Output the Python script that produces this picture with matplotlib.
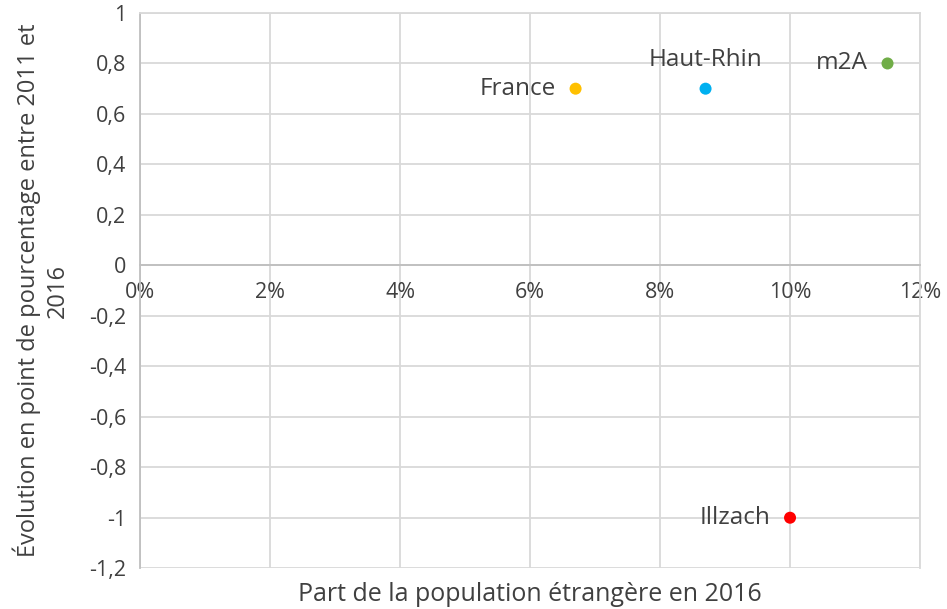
import matplotlib.pyplot as plt
from matplotlib.ticker import FuncFormatter

names = ['France', 'Haut-Rhin', 'm2A', 'Illzach']
part_etrangere = [0.067, 0.087, 0.115, 0.100]
evolution = [0.7, 0.7, 0.8, -1.0]
colors = ['#FFC000', '#00B0F0', '#70AD47', '#FF0000']
label_pos = ['left', 'above', 'left', 'left']

plt.rcParams['font.family'] = ['Open Sans', 'DejaVu Sans']
txt = '#404040'
grid = '#D9D9D9'

fig = plt.figure(figsize=(9.47, 6.09), dpi=100)
ax = fig.add_axes([0.148, 0.067, 0.8235, 0.9117])

for x, y, c, n, p in zip(part_etrangere, evolution, colors, names, label_pos):
    ax.scatter(x, y, s=75, color=c, zorder=3, edgecolors='none')
    if p == 'above':
        ax.annotate(n, (x, y), xytext=(0, 12), textcoords='offset points',
                    ha='center', va='bottom', fontsize=17.5, color=txt)
    else:
        ax.annotate(n, (x, y), xytext=(-14, 0), textcoords='offset points',
                    ha='right', va='center', fontsize=17.5, color=txt)

ax.set_xlim(0, 0.12)
ax.set_ylim(-1.2, 1)
ax.set_xticks([i / 100 for i in range(0, 13, 2)])
ax.set_yticks([round(-1.2 + 0.2 * i, 1) for i in range(12)])
ax.xaxis.set_major_formatter(FuncFormatter(lambda v, _: f'{v * 100:.0f}%'))
ax.yaxis.set_major_formatter(FuncFormatter(
    lambda v, _: ('%g' % round(v, 1)).replace('.', ',')))

ax.grid(True, color=grid, linewidth=1.3)
ax.set_axisbelow(True)
for s in ['top', 'right', 'left']:
    ax.spines[s].set_visible(True)
    ax.spines[s].set_color(grid)
    ax.spines[s].set_linewidth(1.3)
ax.spines['left'].set_color('#BFBFBF')
ax.spines['bottom'].set_position(('data', 0))
ax.spines['bottom'].set_color('#BFBFBF')
ax.spines['bottom'].set_linewidth(1.3)
ax.tick_params(length=0, labelsize=15.5, colors=txt, pad=10)
ax.tick_params(axis='x', pad=12)

ax.set_xlabel('Part de la population étrangère en 2016', fontsize=18, color=txt)
ax.xaxis.set_label_coords(0.5, -0.025)
ax.set_ylabel('Évolution en point de pourcentage entre 2011 et\n2016', fontsize=17,
              color=txt, linespacing=1.25)
ax.yaxis.set_label_coords(-0.09, 0.5)

fig.savefig('out.png', dpi=100, facecolor='white')
